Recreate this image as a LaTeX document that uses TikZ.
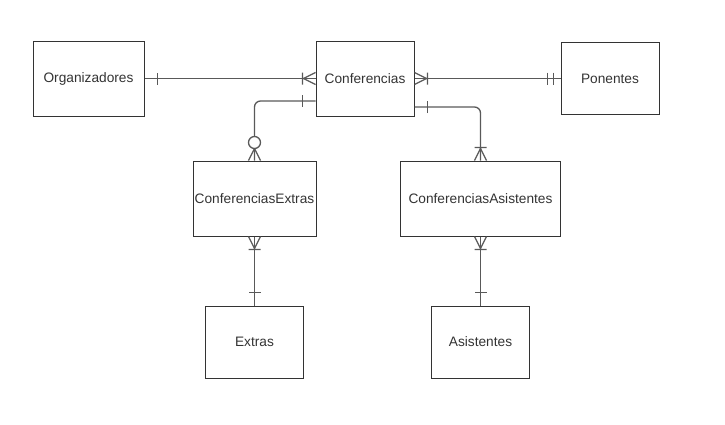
\documentclass[tikz,border=0pt]{standalone}
\usepackage{fontspec}
\setmainfont{Liberation Sans}
\usetikzlibrary{positioning}

\tikzset{
  entity/.style={draw=black!80, line width=1pt, inner sep=0pt, text=black!80,
    font=\fontsize{13.7}{16}\selectfont, minimum height=75pt},
  link/.style={draw=black!65, line width=1.3pt},
  % end marks: origin on the entity side, +x away from it
  one/.pic={\draw[link] (13,-6) -- (13,6);},
  onlyone/.pic={\draw[link] (7,-6) -- (7,6) (13,-6) -- (13,6);},
  onemany/.pic={\draw[link] (0,-6) -- (12,0) -- (0,6) (13,-6) -- (13,6);},
  zeromany/.pic={\draw[link] (0,-6) -- (12,0) -- (0,6);
    \draw[link, fill=white] (18,0) circle (6);}
}

\begin{document}
\begin{tikzpicture}[x=1pt, y=1pt]
\useasboundingbox (0,0) rectangle (725,-424);
\node[entity, minimum width=98pt] (conf) at (365,-78.5) {Conferencias};
\node[entity, minimum width=111pt] (org) [left=171pt of conf] {Organizadores};
\node[entity, minimum width=98pt, minimum height=72pt] (pon) [right=146pt of conf] {Ponentes};
\node[entity, minimum width=123pt] (cext) at (254.5,-198.5) {ConferenciasExtras};
\node[entity, minimum width=160pt] (casi) at (480.5,-198.5) {ConferenciasAsistentes};
\node[entity, minimum width=98pt, minimum height=72pt] (ext) [below=69pt of cext] {Extras};
\node[entity, minimum width=98pt, minimum height=72pt] (asi) [below=69pt of casi] {Asistentes};

\draw[link] (org) -- (conf);
\draw[link] (conf) -- (pon);
\draw[link, rounded corners=6pt] ([yshift=-22.5pt]conf.west) -| (cext.north);
\draw[link, rounded corners=6pt] ([yshift=-28.5pt]conf.east) -| (casi.north);
\draw[link] (cext) -- (ext);
\draw[link] (casi) -- (asi);

\pic at (org.east) {one};
\pic[rotate=180] at (conf.west) {onemany};
\pic at (conf.east) {onemany};
\pic[rotate=180] at (pon.west) {onlyone};
\pic[rotate=180] at ([yshift=-22.5pt]conf.west) {one};
\pic[rotate=90] at (cext.north) {zeromany};
\pic at ([yshift=-28.5pt]conf.east) {one};
\pic[rotate=90] at (casi.north) {onemany};
\pic[rotate=-90] at (cext.south) {onemany};
\pic[rotate=90] at (ext.north) {one};
\pic[rotate=-90] at (casi.south) {onemany};
\pic[rotate=90] at (asi.north) {one};
\end{tikzpicture}
\end{document}
